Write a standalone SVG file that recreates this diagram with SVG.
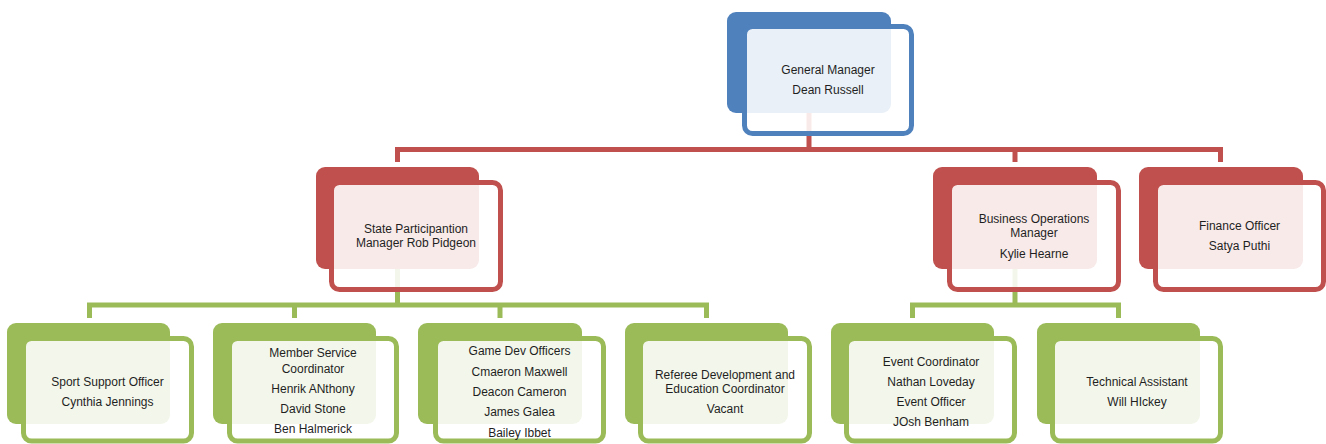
<svg xmlns="http://www.w3.org/2000/svg" width="1326" height="444" viewBox="0 0 1326 444">
<style>
text{font-family:"Liberation Sans",Arial,sans-serif;font-size:12px;fill:#1f1f1f;text-anchor:middle}
.line{fill:none;stroke-width:5;stroke-linejoin:miter;stroke-linecap:butt}
.front{fill:#ffffff;fill-opacity:0.88;stroke-width:5}
.b .back{fill:#4f81bd}.b .front{stroke:#4f81bd}
.r .back{fill:#c0504d}.r .front{stroke:#c0504d}
.g .back{fill:#9bbb59}.g .front{stroke:#9bbb59}
</style>
<rect width="1326" height="444" fill="#ffffff"/>
<g id="connectors">
<path class="line" stroke="#c0504d" d="M809,113 V149.5"/>
<path class="line" stroke="#c0504d" d="M397.5,162 V149.5 H1220.5 V162"/>
<path class="line" stroke="#c0504d" d="M1015,149.5 V162"/>
<path class="line" stroke="#9bbb59" d="M397.5,269 V305"/>
<path class="line" stroke="#9bbb59" d="M89.5,318 V305 H706.5 V318"/>
<path class="line" stroke="#9bbb59" d="M294.5,305 V318 M500,305 V318"/>
<path class="line" stroke="#9bbb59" d="M1015,269 V305"/>
<path class="line" stroke="#9bbb59" d="M912.5,318 V305 H1118.5 V318"/>
</g>
<g id="general-manager" class="b">
<rect class="back" x="727" y="12" width="164" height="101" rx="9"/>
<rect class="front" x="744.5" y="26.5" width="167" height="107" rx="8"/>
<text x="828" y="74.3">General Manager</text>
<text x="828" y="94.3">Dean Russell</text>
</g>
<g id="state-participation" class="r">
<rect class="back" x="316" y="167" width="163" height="102" rx="9"/>
<rect class="front" x="331.5" y="182.5" width="169" height="107" rx="8"/>
<text x="416" y="233.3">State Participantion</text>
<text x="416" y="247.3">Manager Rob Pidgeon</text>
</g>
<g id="business-operations" class="r">
<rect class="back" x="933" y="167" width="164" height="102" rx="9"/>
<rect class="front" x="949.5" y="182.5" width="169" height="107" rx="8"/>
<text x="1034" y="223.3">Business Operations</text>
<text x="1034" y="237.3">Manager</text>
<text x="1034" y="258.3">Kylie Hearne</text>
</g>
<g id="finance-officer" class="r">
<rect class="back" x="1139" y="167" width="164" height="102" rx="9"/>
<rect class="front" x="1155.5" y="182.5" width="168" height="107" rx="8"/>
<text x="1239.5" y="230.3">Finance Officer</text>
<text x="1239.5" y="250.3">Satya Puthi</text>
</g>
<g id="sport-support" class="g">
<rect class="back" x="7" y="323" width="163" height="101" rx="9"/>
<rect class="front" x="23.5" y="338.5" width="168" height="102.5" rx="8"/>
<text x="107.5" y="386.3">Sport Support Officer</text>
<text x="107.5" y="406.3">Cynthia Jennings</text>
</g>
<g id="member-service" class="g">
<rect class="back" x="213" y="323" width="163" height="101" rx="9"/>
<rect class="front" x="229.5" y="338.5" width="167" height="102.5" rx="8"/>
<text x="313" y="357.3">Member Service</text>
<text x="313" y="373.3">Coordinator</text>
<text x="313" y="393.3">Henrik ANthony</text>
<text x="313" y="413.3">David Stone</text>
<text x="313" y="433.3">Ben Halmerick</text>
</g>
<g id="game-dev" class="g">
<rect class="back" x="418" y="323" width="164" height="101" rx="9"/>
<rect class="front" x="435.5" y="338.5" width="168" height="102.5" rx="8"/>
<text x="519.5" y="355.3">Game Dev Officers</text>
<text x="519.5" y="376.3">Cmaeron Maxwell</text>
<text x="519.5" y="396.3">Deacon Cameron</text>
<text x="519.5" y="416.3">James Galea</text>
<text x="519.5" y="437.3">Bailey Ibbet</text>
</g>
<g id="referee-development" class="g">
<rect class="back" x="625" y="323" width="163" height="101" rx="9"/>
<rect class="front" x="640.5" y="338.5" width="169" height="102.5" rx="8"/>
<text x="725" y="379.3">Referee Development and</text>
<text x="725" y="393.3">Education Coordinator</text>
<text x="725" y="413.3">Vacant</text>
</g>
<g id="event-coordinator" class="g">
<rect class="back" x="831" y="323" width="163" height="101" rx="9"/>
<rect class="front" x="846.5" y="338.5" width="168" height="102.5" rx="8"/>
<text x="931" y="366.3">Event Coordinator</text>
<text x="931" y="386.3">Nathan Loveday</text>
<text x="931" y="406.3">Event Officer</text>
<text x="931" y="426.3">JOsh Benham</text>
</g>
<g id="technical-assistant" class="g">
<rect class="back" x="1037" y="323" width="163" height="101" rx="9"/>
<rect class="front" x="1052.5" y="338.5" width="168" height="102.5" rx="8"/>
<text x="1137" y="386.3">Technical Assistant</text>
<text x="1137" y="406.3">Will HIckey</text>
</g>
</svg>
